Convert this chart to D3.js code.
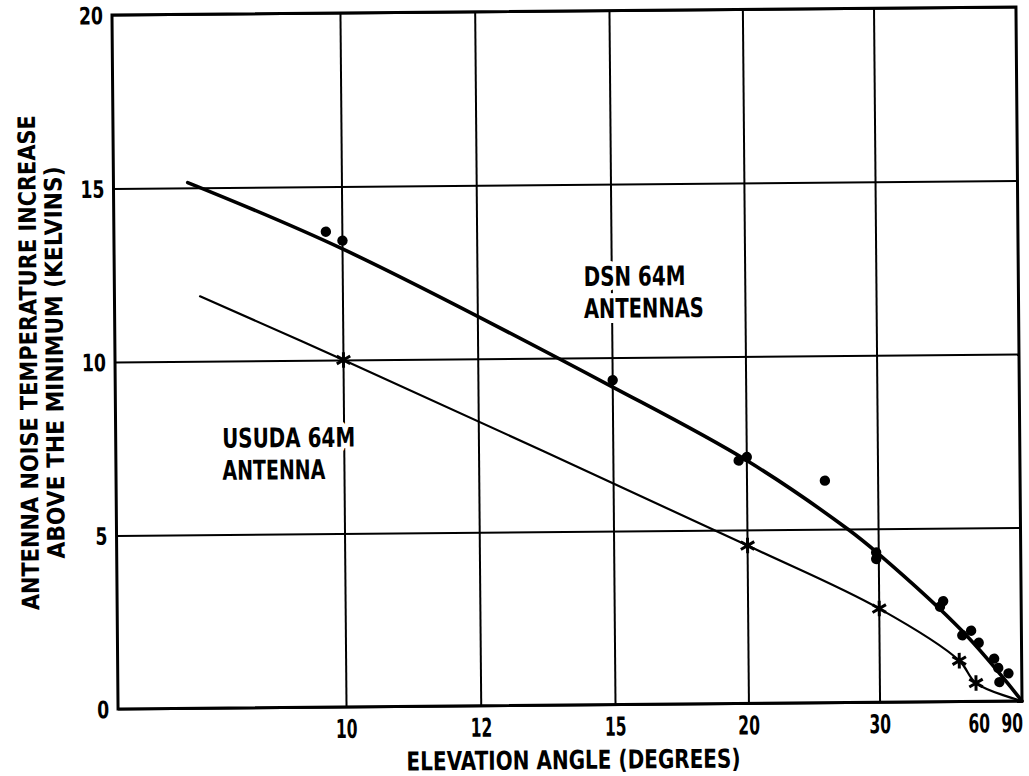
<!DOCTYPE html>
<html>
<head>
<meta charset="utf-8">
<script src="https://cdn.jsdelivr.net/npm/d3@7"></script>
<style>
  body { margin: 0; background: #fff; }
  svg { display: block; }
  text {
    font-family: "DejaVu Sans", sans-serif;
    font-weight: bold;
    fill: #000;
  }
</style>
</head>
<body>
<svg id="chart"></svg>
<script>
// elevation angle ticks (degrees) and temperature ticks (kelvins)
const angleTicks = [10, 12, 15, 20, 30, 60, 90];
const gridAngles = [10, 12, 15, 20, 30];
const tempTicks = [0, 5, 10, 15, 20];
const angleMin = 7.8; // left edge of the plot

// DSN 64M measured points
const dsnAngles = [9.8, 10, 15, 19.6, 20, 24.9, 29.7, 29.7, 39.5, 40.2, 44.9, 47.6, 50.2, 56.9, 59.1, 59.7, 66.1];
const dsnTemps = [13.7, 13.44, 9.35, 7.0, 7.1, 6.4, 4.32, 4.13, 2.74, 2.9, 1.91, 2.04, 1.69, 1.23, 0.96, 0.55, 0.8];

// DSN 64M fitted curve
const dsnCurveAngles = [8.4, 10, 15, 20, 26.8, 30, 44.9, 90];
const dsnCurveTemps = [15.15, 13.2, 9.15, 7.0, 5.0, 4.27, 2.03, 0];

// USUDA 64M measured points
const usudaAngles = [10, 20, 30, 44, 49.1];
const usudaTemps = [10, 4.55, 2.7, 1.18, 0.53];

// USUDA 64M curve
const usudaCurveAngles = [8.5, 10, 20, 30, 44, 49.1, 90];
const usudaCurveTemps = [11.87, 10, 4.55, 2.7, 1.18, 0.53, 0];

const W = 1029, H = 776;
const margin = { top: 11, right: 10, bottom: 71, left: 115 };
const width = W - margin.left - margin.right;
const height = H - margin.top - margin.bottom;

const svg = d3.select("#chart").attr("width", W).attr("height", H);

// the original is a slightly tilted scan
const root = svg.append("g").attr("transform", "rotate(-0.5 567 358)");
const g = root
  .append("g")
  .attr("transform", `translate(${margin.left},${margin.top})`);

// squeeze text to the narrow lettering of the original
const fit = (sel, len) =>
  sel.attr("textLength", len).attr("lengthAdjust", "spacingAndGlyphs");

// x axis is linear in air mass (1 / sin elevation)
const airmass = (a) => 1 / Math.sin((a * Math.PI) / 180);
const airScale = d3
  .scaleLinear()
  .domain([airmass(90), airmass(angleMin)])
  .range([width, 0]);
const x = (a) => airScale(airmass(a));

const y = d3.scaleLinear().domain([0, 20]).range([height, 0]);

// horizontal grid + y tick labels
const yAxis = d3.axisLeft(y).tickValues(tempTicks).tickSize(-width).tickPadding(9);
const yg = g.append("g").call(yAxis);
yg.select(".domain").remove();
yg.selectAll(".tick line").attr("stroke", "#000").attr("stroke-width", 2);
yg.selectAll(".tick text")
  .attr("font-family", null)
  .attr("font-size", null)
  .style("font-size", "24px")
  .attr("fill", "#000")
  .attr("dy", "0.36em")
  .call(fit, (d) => (d >= 10 ? 24 : 12));

// vertical grid
g.selectAll(".vgrid")
  .data(gridAngles)
  .enter()
  .append("line")
  .attr("class", "vgrid")
  .attr("x1", (d) => x(d))
  .attr("x2", (d) => x(d))
  .attr("y1", 0)
  .attr("y2", height)
  .attr("stroke", "#000")
  .attr("stroke-width", 2);

// frame
g.append("rect")
  .attr("width", width)
  .attr("height", height)
  .attr("fill", "none")
  .attr("stroke", "#000")
  .attr("stroke-width", 3);

// x tick labels, horizontally squeezed; 60 and 90 nudged apart as in the original
const nudge = (d) => (d === 60 ? -21 : d === 90 ? -10 : 0);
g.selectAll(".xlab")
  .data(angleTicks)
  .enter()
  .append("text")
  .attr("class", "xlab")
  .attr("transform", (d) => `translate(${x(d) + nudge(d)},${height + 31}) scale(0.6,1)`)
  .attr("text-anchor", "middle")
  .style("font-size", "26px")
  .text((d) => d);

// axis titles
g.append("text")
  .attr("x", width / 2 + 3)
  .attr("y", height + 64)
  .attr("text-anchor", "middle")
  .style("font-size", "26px")
  .call(fit, 334)
  .text("ELEVATION ANGLE (DEGREES)");

g.append("text")
  .attr("transform", `translate(${37 - margin.left},${358 - margin.top}) rotate(-90)`)
  .attr("text-anchor", "middle")
  .style("font-size", "24px")
  .call(fit, 495)
  .text("ANTENNA NOISE TEMPERATURE INCREASE");

g.append("text")
  .attr("transform", `translate(${63 - margin.left},${358 - margin.top}) rotate(-90)`)
  .attr("text-anchor", "middle")
  .style("font-size", "24px")
  .call(fit, 392)
  .text("ABOVE THE MINIMUM (KELVINS)");

// curves
const line = d3
  .line()
  .x((d) => x(d[0]))
  .y((d) => y(d[1]))
  .curve(d3.curveCatmullRom.alpha(0.5));

g.append("path")
  .datum(d3.zip(dsnCurveAngles, dsnCurveTemps))
  .attr("d", line)
  .attr("fill", "none")
  .attr("stroke", "#000")
  .attr("stroke-width", 3.6)
  .attr("stroke-linecap", "round");

g.append("path")
  .datum(d3.zip(usudaCurveAngles, usudaCurveTemps))
  .attr("d", line)
  .attr("fill", "none")
  .attr("stroke", "#000")
  .attr("stroke-width", 2.2)
  .attr("stroke-linecap", "round");

// DSN dots
g.selectAll(".dsn")
  .data(d3.zip(dsnAngles, dsnTemps))
  .enter()
  .append("circle")
  .attr("class", "dsn")
  .attr("cx", (d) => x(d[0]))
  .attr("cy", (d) => y(d[1]))
  .attr("r", 5.2)
  .attr("fill", "#000");

// USUDA stars
const star = d3.symbol().type(d3.symbolAsterisk).size(170);
g.selectAll(".usuda")
  .data(d3.zip(usudaAngles, usudaTemps))
  .enter()
  .append("path")
  .attr("class", "usuda")
  .attr("transform", (d) => `translate(${x(d[0])},${y(d[1])})`)
  .attr("d", star)
  .attr("fill", "none")
  .attr("stroke", "#000")
  .attr("stroke-width", 3);

// curve labels, with white halo that breaks the grid like the original
const labels = [
  { lines: ["DSN 64M", "ANTENNAS"], widths: [102, 120], at: [14.25, 12.07] },
  { lines: ["USUDA 64M", "ANTENNA"], widths: [133, 103], at: [8.69, 7.5] },
];
labels.forEach((lab) => {
  lab.lines.forEach((s, i) => {
    g.append("text")
      .attr("x", x(lab.at[0]))
      .attr("y", y(lab.at[1]) + i * 32)
      .style("font-size", "27px")
      .attr("stroke", "#fff")
      .attr("stroke-width", 10)
      .attr("paint-order", "stroke")
      .attr("stroke-linejoin", "round")
      .call(fit, lab.widths[i])
      .text(s);
  });
});
</script>
</body>
</html>
